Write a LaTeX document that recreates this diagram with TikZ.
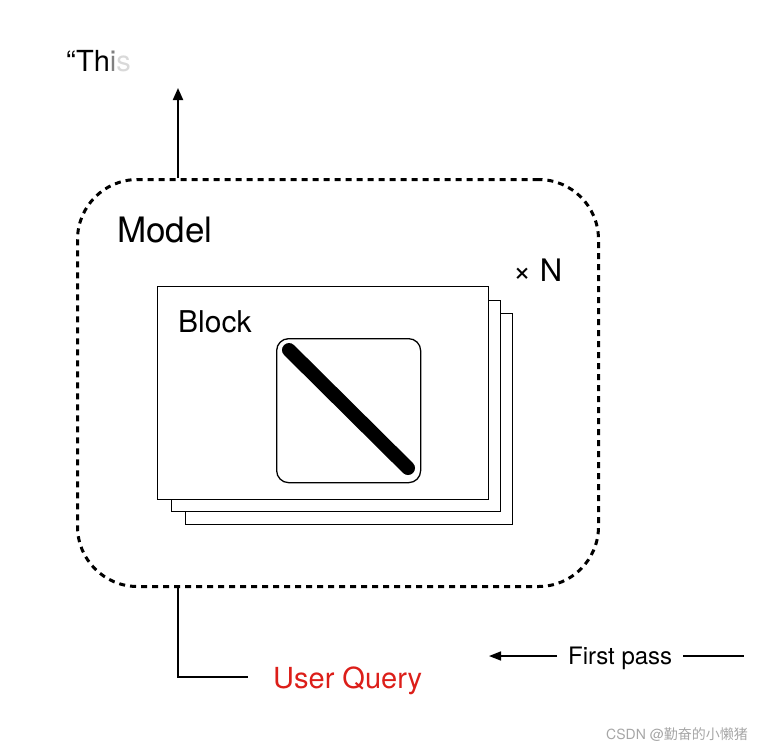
\documentclass[tikz,border=0pt]{standalone}
\usepackage{fontspec}
\setmainfont{TeX Gyre Heros}
\newfontfamily\cjk{Noto Sans CJK SC}
\usetikzlibrary{arrows.meta}
\begin{document}
\begin{tikzpicture}[x=1pt,y=-1pt,
  lbl/.style={inner sep=0pt,anchor=base west},
  box/.style={draw=black,line width=1.3pt,fill=white},
  arr/.style={line width=2pt,-{Triangle[length=12pt,width=10pt]}}]
\useasboundingbox (0,0) rectangle (782,748);
\node[draw,dash pattern=on 6pt off 5pt,line width=3pt,rounded corners=60pt,minimum width=521pt,minimum height=407pt,anchor=north west] (model) at (76,178) {};
\coordinate (top) at (178,88);
\draw[arr] (178,178) -- (top);
\node[lbl,font=\fontsize{29}{29}\selectfont] (this) at (66,71) {“Th\textcolor{black!50}{i}\textcolor{black!15}{s}};
\node[lbl,font=\fontsize{35}{35}\selectfont] (mlab) at (117,242) {Model};
\node[lbl,font=\fontsize{31}{31}\selectfont] (n) at (513,281) {× N};
\node[box,minimum width=327pt,minimum height=211pt,anchor=north west] (b3) at (185,313) {};
\node[box,minimum width=329pt,minimum height=211pt,anchor=north west] (b2) at (171,300) {};
\node[box,minimum width=331pt,minimum height=213pt,anchor=north west] (b1) at (157,286) {};
\node[lbl,font=\fontsize{30}{30}\selectfont] (blab) at (178,332) {Block};
\node[box,rounded corners=12pt,minimum width=144pt,minimum height=144pt,anchor=north west] (inner) at (276,338) {};
\draw[line width=14pt,line cap=round] (289,350) -- (408,468);
\coordinate (c1) at (178,677);
\coordinate (c2) at (248,677);
\draw[line width=2pt] (178,586) -- (c1) -- (c2);
\node[lbl,text={rgb,255:red,220;green,30;blue,25},font=\fontsize{29}{29}\selectfont] (uq) at (273,688) {User Query};
\node[lbl,font=\fontsize{24}{24}\selectfont] (fp) at (568,664) {First pass};
\coordinate (fa) at (489,656);
\draw[line width=1.5pt,-{Triangle[length=12pt,width=9pt]}] (557,656) -- (fa);
\coordinate (fb) at (744,656);
\draw[line width=1.5pt] (683,656) -- (fb);
\node[lbl,text=black!35,font=\fontsize{14}{14}\selectfont] (wm) at (606,739) {CSDN @{\cjk 勤奋的小懒猪}};
\end{tikzpicture}
\end{document}
